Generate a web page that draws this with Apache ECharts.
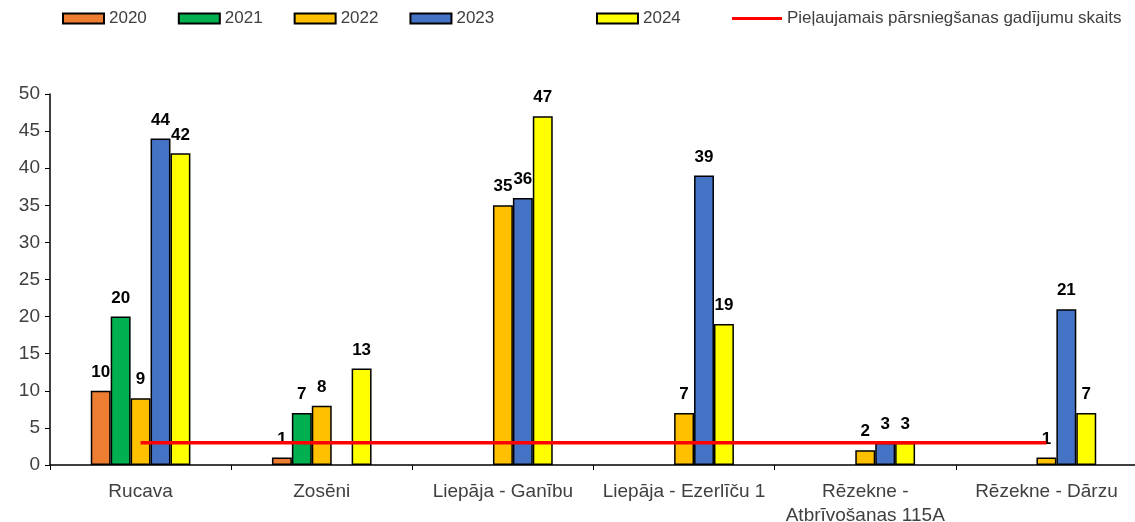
<!DOCTYPE html>
<html><head><meta charset="utf-8">
<script src="https://cdn.jsdelivr.net/npm/echarts@6/dist/echarts.min.js"></script>
<style>html,body{margin:0;padding:0;background:#fff}#c{width:1135px;height:522px}</style>
</head><body><div id="c"></div>
<script>
const categories = ['Rucava', 'Zosēni', 'Liepāja - Ganību', 'Liepāja - Ezerlīču 1', 'Rēzekne -\nAtbrīvošanas 115A', 'Rēzekne - Dārzu'];
const v2020 = [10, 1, '-', '-', '-', '-'];
const v2021 = [20, 7, '-', '-', '-', '-'];
const v2022 = [9, 8, 35, 7, 2, 1];
const v2023 = [44, '-', 36, 39, 3, 21];
const v2024 = [42, 13, 47, 19, 3, 7];
const limit = [3, 3, 3, 3, 3, 3];
const yTicks = {min: 0, max: 50, interval: 5};

const font = 'Liberation Sans, Arial, sans-serif';
function bar(name, data, color) {
  return {
    name, type: 'bar', data, barGap: '0%', barCategoryGap: '45%',
    itemStyle: {color, borderColor: '#000', borderWidth: 1.5},
    label: {show: true, position: 'top', distance: 10, color: '#000', fontWeight: 'bold', fontSize: 17, fontFamily: font}
  };
}
const legendText = {fontSize: 17, color: '#404040', fontFamily: font};
const chart = echarts.init(document.getElementById('c'));
chart.setOption({
  animation: false,
  textStyle: {fontFamily: font},
  legend: [
    {left: 62, top: 10, itemWidth: 41, itemHeight: 10, itemGap: 31, icon: 'rect', padding: 0,
     textStyle: legendText, data: ['2020', '2021', '2022', '2023']},
    {left: 596, top: 10, itemWidth: 41, itemHeight: 10, icon: 'rect', padding: 0,
     textStyle: legendText, data: ['2024']},
    {left: 732, top: 10, itemWidth: 50, itemHeight: 3, icon: 'rect', padding: 0,
     textStyle: legendText, data: ['Pieļaujamais pārsniegšanas gadījumu skaits']}
  ],
  grid: {left: 50, right: -2, top: 94, bottom: 57, containLabel: false, outerBoundsMode: 'none'},
  xAxis: {
    type: 'category', data: categories,
    axisLine: {lineStyle: {color: '#000', width: 1.5}},
    axisTick: {show: true, length: 5, lineStyle: {color: '#000'}},
    axisLabel: {fontSize: 19, color: '#404040', margin: 15, lineHeight: 24, interval: 0}
  },
  yAxis: {
    type: 'value', min: yTicks.min, max: yTicks.max, interval: yTicks.interval,
    splitLine: {show: false},
    axisLine: {show: true, lineStyle: {color: '#000', width: 1.5}},
    axisTick: {show: true, length: 5, lineStyle: {color: '#000'}},
    axisLabel: {fontSize: 19, color: '#404040', margin: 10}
  },
  series: [
    bar('2020', v2020, '#ED7D31'),
    bar('2021', v2021, '#00B050'),
    bar('2022', v2022, '#FFC000'),
    bar('2023', v2023, '#4472C4'),
    bar('2024', v2024, '#FFFF00'),
    {name: 'Pieļaujamais pārsniegšanas gadījumu skaits', type: 'line', data: limit,
     showSymbol: false, symbol: 'none', z: 5,
     lineStyle: {color: '#FF0000', width: 3.5}, itemStyle: {color: '#FF0000'}}
  ]
});
</script></body></html>
